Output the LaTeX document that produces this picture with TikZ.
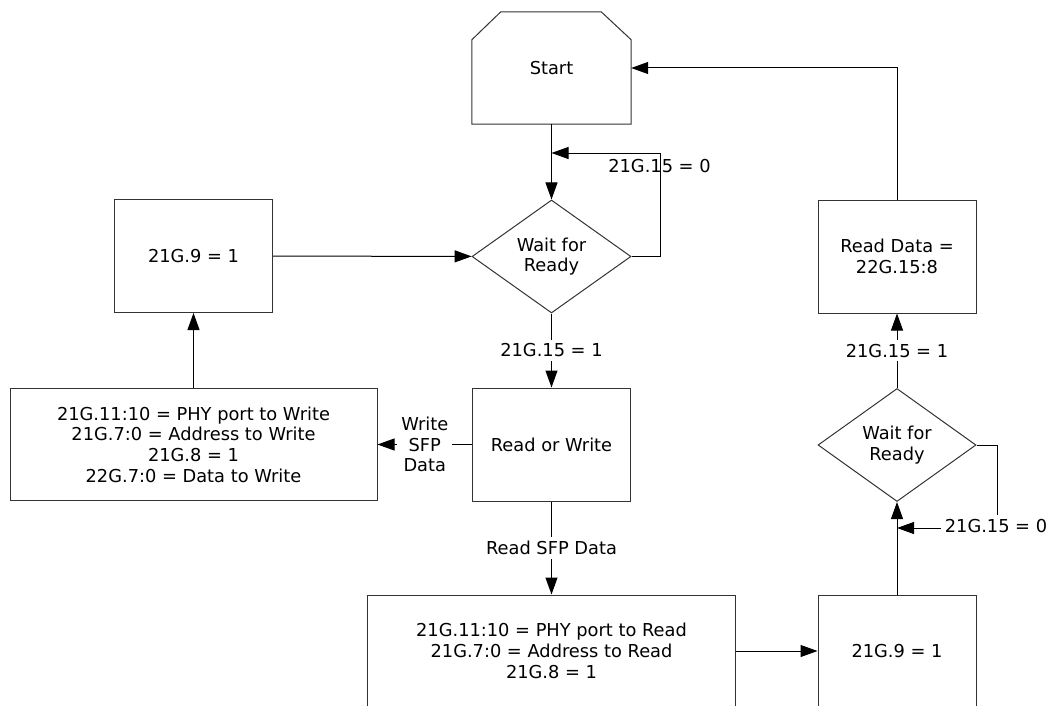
\documentclass[tikz,border=0pt]{standalone}
\usepackage{fontspec}
\setmainfont{DejaVu Sans}
\usetikzlibrary{shapes.geometric, arrows.meta, positioning}
\tikzstyle{every node}=[font=\fontsize{17.8}{20.7}\selectfont]
\tikzstyle{outline}=[draw=black!80, line width=1pt]
\tikzstyle{box}=[outline, rectangle, align=center, minimum width=158pt, minimum height=113pt]
\tikzstyle{widebox}=[box, minimum width=368pt, minimum height=112pt]
\tikzstyle{decision}=[outline, diamond, align=center, inner sep=0pt, minimum width=159pt, minimum height=113pt]
\tikzstyle{startbox}=[rectangle, minimum width=159pt, minimum height=112pt]
\tikzstyle{lbl}=[fill=white, align=center, inner sep=4pt]
\tikzstyle{flow}=[line width=1pt, -{Triangle[length=17pt, width=12pt]}]

\begin{document}
\begin{tikzpicture}[x=1pt, y=-1pt]
  \path[use as bounding box, clip] (0,0) rectangle (1049,706);

  \node[startbox] (start) at (551.5,68) {Start};
  \draw[outline] (start.south west) -- ([yshift=-28pt]start.north west)
    -- ([xshift=29pt]start.north west) -- ([xshift=-30pt]start.north east)
    -- ([yshift=-28pt]start.north east) -- (start.south east) -- cycle;
  \node[decision, below of=start, node distance=188.5pt] (wait) {Wait for\\Ready};
  \node[box, below of=wait, node distance=188pt] (rw) {Read or Write};
  \node[widebox, below of=rw, node distance=206.5pt] (rdsetup) {21G.11:10 = PHY port to Read\\21G.7:0 = Address to Read\\21G.8 = 1};
  \node[widebox, minimum width=367pt, left of=rw, node distance=358pt] (wrsetup) {21G.11:10 = PHY port to Write\\21G.7:0 = Address to Write\\21G.8 = 1\\22G.7:0 = Data to Write};
  \node[box, above of=wrsetup, node distance=188.5pt] (wrgo) {21G.9 = 1};
  \node[box, minimum height=112pt, right of=rdsetup, node distance=345.5pt] (rdgo) {21G.9 = 1};
  \node[decision, minimum width=158pt, above of=rdgo, node distance=206pt] (rdwait) {Wait for\\Ready};
  \node[box, above of=rdwait, node distance=188.5pt] (rddata) {Read Data =\\22G.15:8};

  \coordinate (wloop) at (660,153);
  \coordinate (wjoin) at (551.5,153);
  \coordinate (rloop) at (997,528);
  \coordinate (rjoin) at (897,528);

  \draw[flow] (start) -- (wait);
  \draw[flow] (wait.east) -| (wloop) -- (wjoin);
  \node (notready) at (659.5,166) {21G.15 = 0};
  \draw[flow] (wait) -- node[lbl] (ready) {21G.15 = 1} (rw);
  \draw[flow] (rw) -- node[lbl] (wrsel) {Write\\SFP\\Data} (wrsetup);
  \draw[flow] (rw) -- node[lbl] (rdsel) {Read SFP Data} (rdsetup);
  \draw[flow] (wrsetup) -- (wrgo);
  \draw[flow] (wrgo) -- (wait);
  \draw[flow] (rdsetup.east |- rdgo.west) -- (rdgo.west);
  \draw[flow] (rdgo) -- (rdwait);
  \draw[flow] (rdwait.east) -| (rloop) -- (rjoin);
  \node[lbl] (rdnotready) at (996,526) {21G.15 = 0};
  \draw[flow] (rdwait) -- node[lbl] (rdready) {21G.15 = 1} (rddata);
  \draw[flow] (rddata.north) |- (start.east);
\end{tikzpicture}
\end{document}
